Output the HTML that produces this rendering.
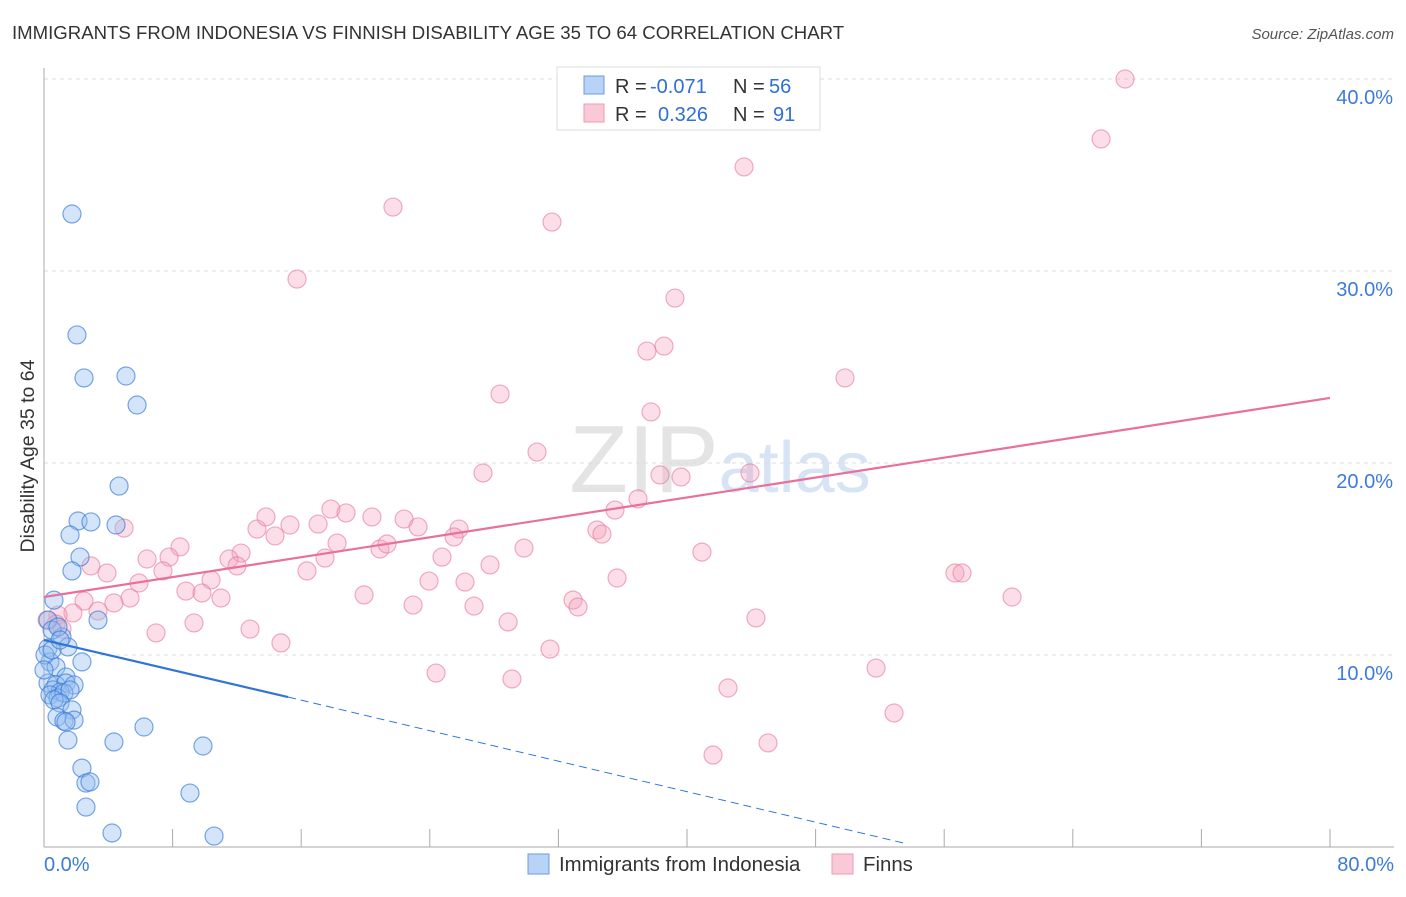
<!DOCTYPE html>
<html><head><meta charset="utf-8"><style>
body{margin:0;background:#fff;font-family:"Liberation Sans",sans-serif;}
svg text{font-family:"Liberation Sans",sans-serif;}
</style></head><body>
<svg id="chart" width="1406" height="892" viewBox="0 0 1406 892">
<text x="12" y="39" font-size="18.6" fill="#333">IMMIGRANTS FROM INDONESIA VS FINNISH DISABILITY AGE 35 TO 64 CORRELATION CHART</text>
<text x="1394" y="39" font-size="15" fill="#555" text-anchor="end" font-style="italic">Source: ZipAtlas.com</text>
<text x="720" y="492" font-size="96" fill="#e4e4e4" text-anchor="middle" font-family="Liberation Serif">ZIP<tspan fill="#d6e4f5" font-family="Liberation Sans" font-size="72">atlas</tspan></text>
<g id="grid"></g>
<g id="axes"></g>
<g id="marks"></g>
<text transform="translate(34,456) rotate(-90)" font-size="19.5" fill="#333" text-anchor="middle">Disability Age 35 to 64</text>
<g>
<rect x="557" y="67" width="263" height="63" fill="#fff" stroke="#ddd"/>
<rect x="584" y="76" width="20" height="18" fill="#b8d3f5" stroke="#6a9be0"/>
<rect x="584" y="104" width="20" height="18" fill="#f9c9d7" stroke="#ee9ab3"/>
<text x="615" y="93" font-size="20" fill="#333">R =</text>
<text x="650" y="93" font-size="20" fill="#2f6fd6">-0.071</text>
<text x="733" y="93" font-size="20" fill="#333">N =</text>
<text x="769" y="93" font-size="20" fill="#2f6fd6">56</text>
<text x="615" y="121" font-size="20" fill="#333">R =</text>
<text x="658" y="121" font-size="20" fill="#2f6fd6">0.326</text>
<text x="733" y="121" font-size="20" fill="#333">N =</text>
<text x="773" y="121" font-size="20" fill="#2f6fd6">91</text>
</g>
<g>
<rect x="528" y="854" width="21" height="20" fill="#b8d3f5" stroke="#6a9be0"/>
<text x="559" y="871" font-size="20.4" fill="#333">Immigrants from Indonesia</text>
<rect x="832" y="854" width="21" height="20" fill="#f9c9d7" stroke="#ee9ab3"/>
<text x="863" y="871" font-size="20.4" fill="#333">Finns</text>
</g>
</svg>
<script>
const yTicks=[10,20,30,40];
const yTickLabels=["10.0%","20.0%","30.0%","40.0%"];
const xTickLabels=["0.0%","80.0%"];
const blueX=[1.74,2.05,2.49,5.10,5.79,4.67,2.12,2.92,4.48,1.62,2.24,1.74,3.36,1.12,0.25,1.49,0.37,2.36,0.75,1.37,0.25,0.75,1.37,1.87,0.56,1.00,0.37,0.87,1.24,0.62,1.62,1.00,1.74,0.81,1.24,1.87,1.37,1.49,4.35,6.22,9.89,2.36,2.61,2.86,2.61,9.08,4.23,10.58,0.25,0.50,0.87,0.06,0.50,0,0.62,1.00];
const blueY=[32.97,26.67,24.43,24.53,23.02,18.80,16.98,16.93,16.77,16.25,15.10,14.38,11.82,10.94,10.36,10.42,9.64,9.64,9.38,8.85,8.54,8.44,8.54,8.44,8.18,8.07,7.92,7.76,8.02,7.66,8.18,7.50,7.14,6.77,6.56,6.61,6.51,5.57,5.47,6.25,5.26,4.11,3.33,3.39,2.08,2.81,0.73,0.57,11.82,11.30,11.46,10.0,10.26,9.22,12.86,10.78];
const pinkX=[67.25,65.76,43.55,21.71,31.60,15.74,39.25,38.57,37.51,49.83,28.37,37.76,30.67,27.31,38.32,39.63,43.92,36.95,35.52,17.85,18.79,20.40,22.40,23.27,13.25,13.81,15.30,17.05,25.82,25.51,14.37,4.98,18.23,20.90,21.34,34.40,34.71,8.46,12.26,11.51,6.41,7.78,12.01,17.48,24.76,29.86,27.75,40.93,2.92,3.92,7.40,16.36,10.39,5.91,8.83,9.83,23.95,26.19,35.65,56.67,57.11,60.22,19.91,11.01,5.35,4.35,2.49,22.96,26.75,32.91,33.22,1.80,3.36,9.33,12.82,28.87,0.87,0.19,0.75,1.12,6.97,14.74,44.29,31.48,51.76,24.39,29.11,42.55,52.88,41.62,45.04];
const pinkY=[40.0,36.88,35.42,33.33,32.55,29.58,28.59,26.09,25.83,24.43,23.59,22.66,20.57,19.48,19.38,19.27,19.48,18.13,17.55,17.60,17.40,17.19,17.08,16.67,16.56,17.19,16.77,16.82,16.56,16.15,16.20,16.61,15.83,15.52,15.78,16.51,16.30,15.63,15.31,15.00,15.00,15.10,14.64,15.05,15.10,15.57,14.69,15.36,14.64,14.27,14.38,14.38,13.91,13.75,13.33,13.23,13.85,13.80,14.01,14.27,14.27,13.02,13.13,12.97,12.97,12.71,12.81,12.60,12.55,12.86,12.50,12.19,12.29,11.67,11.35,11.72,12.08,11.82,11.61,11.35,11.15,10.63,11.93,10.31,9.32,9.06,8.75,8.28,6.98,4.79,5.42];
const pinkTrend=[[0,13.02],[80,23.39]];
const blueTrendSolid=[[0,10.78],[15.18,7.81]];
const blueTrendDash=[[15.18,7.81],[53.5,0.2]];

const NS="http://www.w3.org/2000/svg";
const X=v=>44+v/80*1286;
const Y=v=>847-v*19.2;
function mk(tag,attrs,parent){const e=document.createElementNS(NS,tag);for(const k in attrs)e.setAttribute(k,attrs[k]);document.getElementById(parent).appendChild(e);return e;}
yTicks.forEach((t,i)=>{
  const g=mk('line',{x1:44,x2:1394,y1:Y(t),y2:Y(t),stroke:'#ddd','stroke-dasharray':'4,4'},'grid');
  
  
  const l=mk('text',{x:1393,y:Y(t)+25,'font-size':20,fill:'#3d7bd9','text-anchor':'end'},'axes');
  l.textContent=yTickLabels[i];
  
  
});
const ax=mk('line',{x1:44,x2:44,y1:68,y2:847,stroke:'#aaa'},'axes');


const bx=mk('line',{x1:44,x2:1394,y1:847,y2:847,stroke:'#aaa'},'axes');


for(let i=0;i<=10;i++){
  const t=mk('line',{x1:X(i*8),x2:X(i*8),y1:829,y2:847,stroke:'#aaa'},'axes');
  
  
}
[[0,'start',44],[80,'end',1394]].forEach((d,i)=>{
  const l=mk('text',{x:d[2],y:871,'font-size':20,fill:'#3d7bd9','text-anchor':d[1]},'axes');
  l.textContent=xTickLabels[i];
  
  
});
pinkX.forEach((v,i)=>{
  const c=mk('circle',{cx:X(v),cy:Y(pinkY[i]),r:9,fill:'rgba(244,160,186,0.35)',stroke:'rgba(232,120,155,0.6)','stroke-width':1.2},'marks');
  
  
});
blueX.forEach((v,i)=>{
  const c=mk('circle',{cx:X(v),cy:Y(blueY[i]),r:9,fill:'rgba(150,190,240,0.4)',stroke:'rgba(50,120,215,0.65)','stroke-width':1.2},'marks');
  
  
});
const pl=mk('line',{x1:X(pinkTrend[0][0]),y1:Y(pinkTrend[0][1]),x2:X(pinkTrend[1][0]),y2:Y(pinkTrend[1][1]),stroke:'#e8709a','stroke-width':2.2},'marks');


const bl=mk('line',{x1:X(blueTrendSolid[0][0]),y1:Y(blueTrendSolid[0][1]),x2:X(blueTrendSolid[1][0]),y2:Y(blueTrendSolid[1][1]),stroke:'#2f74d8','stroke-width':2.2},'marks');


const bd=mk('line',{x1:X(blueTrendDash[0][0]),y1:Y(blueTrendDash[0][1]),x2:X(blueTrendDash[1][0]),y2:Y(blueTrendDash[1][1]),stroke:'#2f74d8','stroke-width':1,'stroke-dasharray':'8,5'},'marks');


</script>
</body></html>
